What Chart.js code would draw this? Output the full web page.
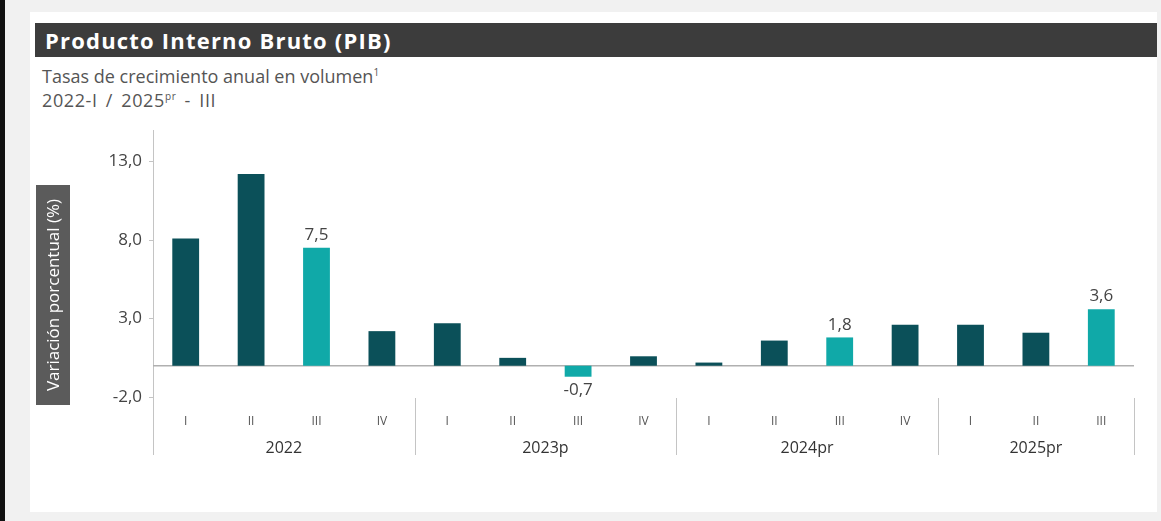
<!DOCTYPE html>
<html>
<head>
<meta charset="utf-8">
<script src="https://cdn.jsdelivr.net/npm/chart.js@4.4.0/dist/chart.umd.min.js"></script>
<title>PIB</title>
<style>
  body{margin:0;background:#f1f1f1;font-family:"Open Sans",sans-serif;}
  #wrap{position:relative;width:1161px;height:521px;overflow:hidden;}
  #edge{position:absolute;left:0;top:0;width:5px;height:521px;background:#111;}
  #card{position:absolute;left:30px;top:12px;width:1127px;height:500px;background:#fff;}
  #head{position:absolute;left:35px;top:23px;width:1122px;height:34px;background:#3c3c3c;color:#fff;
        font-weight:700;font-size:22px;letter-spacing:1.2px;line-height:34px;padding-left:10px;box-sizing:border-box;}
  .sub{position:absolute;left:42px;color:#555;font-size:18px;line-height:24px;}
  .sub sup{font-size:10px;}
  canvas{position:absolute;left:0;top:0;}
</style>
</head>
<body>
<div id="wrap">
  <div id="edge"></div>
  <div id="card"></div>
  <div id="head">Producto Interno Bruto (PIB)</div>
  <div class="sub" style="top:60px">Tasas de crecimiento anual en volumen<sup>1</sup></div>
  <div class="sub" style="top:84px;letter-spacing:0.6px;word-spacing:3px">2022-I / 2025<sup>pr</sup> - III</div>
  <canvas id="chart" width="1161" height="521"></canvas>
</div>
<script>
  const quarters = ['I','II','III','IV','I','II','III','IV','I','II','III','IV','I','II','III'];
  const years = ['2022','2023p','2024pr','2025pr'];
  const yearSpan = [4,4,4,3];
  const growth = [8.1,12.2,7.5,2.2,2.7,0.5,-0.7,0.6,0.2,1.6,1.8,2.6,2.6,2.1,3.6];
  const labeled = [2,6,10,14];
  const yTicks = [-2,3,8,13];

  const dark = '#0b5059';
  const light = '#10a9a8';
  const fmt = v => v.toFixed(1).replace('.', ',');

  const extras = {
    id:'extras',
    beforeDatasetsDraw(chart){
      const c = chart.ctx, a = chart.chartArea, y0 = chart.scales.y.getPixelForValue(0);
      c.save();
      c.strokeStyle = '#b0b0b0'; c.lineWidth = 1.5;
      c.beginPath(); c.moveTo(a.left, y0); c.lineTo(a.right, y0); c.stroke();
      c.restore();
    },
    afterDraw(chart){
      const c = chart.ctx, a = chart.chartArea, x = chart.scales.x;
      const step = x.getPixelForValue(1) - x.getPixelForValue(0);
      c.save();
      // year groups: separators + labels
      c.strokeStyle = '#c4c4c4'; c.lineWidth = 1;
      c.beginPath(); c.moveTo(a.left + 0.5, a.bottom); c.lineTo(a.left + 0.5, 455); c.stroke();
      let start = 0;
      c.font = '16px "Open Sans"'; c.fillStyle = '#333'; c.textAlign = 'center'; c.textBaseline = 'middle';
      years.forEach((yr, g) => {
        const end = start + yearSpan[g] - 1;
        const sx = Math.round(x.getPixelForValue(end) + step / 2) + 0.5;
        c.beginPath(); c.moveTo(sx, 398); c.lineTo(sx, 455); c.stroke();
        const cx = (x.getPixelForValue(start) + x.getPixelForValue(end)) / 2;
        c.fillText(yr, cx, 448);
        start = end + 1;
      });
      // value labels on highlighted bars
      c.fillStyle = '#444'; c.font = '17px "Open Sans"';
      const meta = chart.getDatasetMeta(0);
      labeled.forEach(i => {
        const el = meta.data[i], v = growth[i];
        if (v >= 0) { c.textBaseline = 'bottom'; c.fillText(fmt(v), el.x, el.y - 4); }
        else { c.textBaseline = 'top'; c.fillText(fmt(v), el.x, el.y + 5); }
      });
      // y axis title box
      c.fillStyle = '#5b5b5b';
      c.fillRect(36, 185, 34, 220);
      c.translate(53, 295); c.rotate(-Math.PI / 2);
      c.fillStyle = '#fff'; c.font = '17px "Open Sans"'; c.textBaseline = 'middle';
      c.fillText('Variación porcentual (%)', 0, 1);
      c.restore();
    }
  };

  const ctx = document.getElementById('chart').getContext('2d');
  new Chart(ctx, {
    type: 'bar',
    data: {
      labels: quarters,
      datasets: [{
        data: growth,
        backgroundColor: growth.map((v, i) => labeled.includes(i) ? light : dark),
        barPercentage: 0.41,
        categoryPercentage: 1
      }]
    },
    options: {
      responsive: false,
      animation: false,
      layout: {padding: {left: 0, right: 27, top: 130, bottom: 0}},
      plugins: {legend: {display: false}, tooltip: {enabled: false}},
      scales: {
        x: {
          grid: {display: false, drawTicks: false},
          border: {display: false},
          ticks: {color: '#555', font: {size: 12, family: 'Open Sans'}, padding: 9, maxRotation: 0, autoSkip: false},
          afterFit: s => { s.height = 116; }
        },
        y: {
          min: -2.5, max: 15,
          afterBuildTicks: s => { s.ticks = yTicks.map(v => ({value: v})); },
          grid: {drawOnChartArea: false, tickLength: 4, color: '#c4c4c4'},
          border: {color: '#c4c4c4'},
          ticks: {color: '#444', font: {size: 17, family: 'Open Sans'}, padding: 7, callback: v => fmt(v)},
          afterFit: s => { s.width = 153; }
        }
      }
    },
    plugins: [extras]
  });
</script>
</body>
</html>
